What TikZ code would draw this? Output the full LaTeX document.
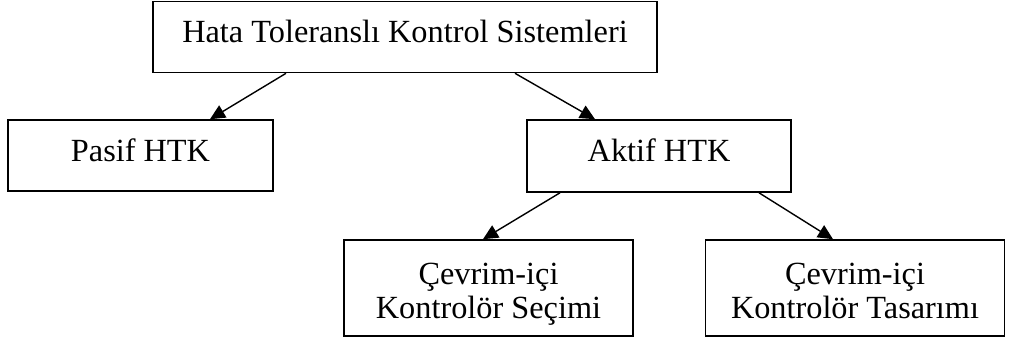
\documentclass[tikz,border=0pt]{standalone}
\usepackage{fontspec}
\setmainfont{Liberation Serif}
\usetikzlibrary{arrows.meta}
\begin{document}
\begin{tikzpicture}[x=1pt,y=-1pt,
  box/.style={draw=black, line width=1.6pt, inner sep=0pt, fill=white},
  lbl/.style={inner sep=0pt, anchor=base, font=\fontsize{32.3}{38}\selectfont},
  link/.style={line width=1.4pt, -{Triangle[length=15pt,width=14pt]}}]
\fill[white] (0,0) rectangle (1009,345);
\useasboundingbox (0,0) rectangle (1009,345);

% boxes
\node[box, minimum width=504pt, minimum height=71pt] (T) at (405,37) {};
\node[box, minimum width=265pt, minimum height=71pt] (P) at (140.5,155.5) {};
\node[box, minimum width=264pt, minimum height=72pt] (A) at (659,156) {};
\node[box, minimum width=289pt, minimum height=96pt] (S) at (488.5,288) {};
\node[box, minimum width=299pt, minimum height=96pt] (D) at (855,288) {};

% labels
\node[lbl] (tT) at ([yshift=-6pt]T.center) {Hata Toleranslı Kontrol Sistemleri};
\node[lbl] (tP) at ([yshift=-5.5pt]P.center) {Pasif HTK};
\node[lbl] (tA) at ([yshift=-5pt]A.center) {Aktif HTK};
\node[lbl] (tS1) at ([yshift=4pt]S.center) {Çevrim-içi};
\node[lbl] (tS2) at ([yshift=-30pt]S.center) {Kontrolör Seçimi};
\node[lbl] (tD1) at ([yshift=4pt]D.center) {Çevrim-içi};
\node[lbl] (tD2) at ([yshift=-30pt]D.center) {Kontrolör Tasarımı};

% connectors
\draw[link] ([xshift=-119pt]T.south) -- ([xshift=69.5pt]P.north);
\draw[link] ([xshift=110pt]T.south) -- ([xshift=-64pt]A.north);
\draw[link] ([xshift=-99pt]A.south) -- ([xshift=-5.5pt]S.north);
\draw[link] ([xshift=100pt]A.south) -- ([xshift=-22pt]D.north);
\end{tikzpicture}
\end{document}
